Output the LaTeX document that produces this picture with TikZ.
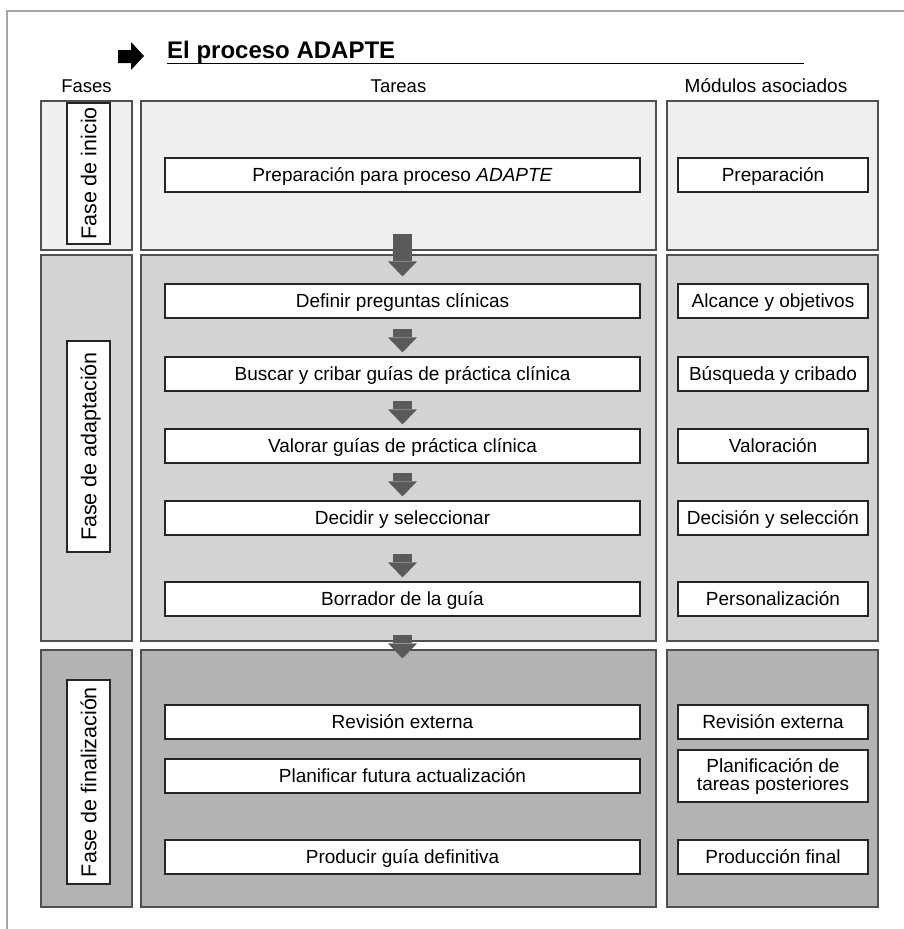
\documentclass[tikz,border=0pt]{standalone}
\usepackage{fontspec}
\setmainfont{Liberation Sans}
\usepackage{xcolor}
\usetikzlibrary{arrows.meta}
\definecolor{rowA}{HTML}{EFEFEF}
\definecolor{rowB}{HTML}{D3D3D3}
\definecolor{rowC}{HTML}{B3B3B3}
\definecolor{edgegray}{HTML}{505050}
\definecolor{flowgray}{HTML}{5A5A5A}
\definecolor{framegray}{HTML}{A6A6A6}

\begin{document}
\begin{tikzpicture}[x=1pt, y=-1pt,
    colbox/.style={draw=edgegray, line width=1.3pt},
    task/.style={draw=black!85, fill=white, line width=1.1pt, minimum width=475pt, minimum height=34pt, inner sep=0pt, text height=13.6pt, text depth=0pt, align=center, font=\fontsize{19}{18}\selectfont},
    modul/.style={task, minimum width=190pt},
    phase/.style={draw=black!85, fill=white, line width=1.1pt, rotate=90, minimum height=43pt, inner sep=0pt, text height=15.5pt, text depth=0pt, font=\fontsize{21.5}{24}\selectfont},
    head/.style={anchor=base, font=\fontsize{18.5}{21}\selectfont},
    flow/.style={draw=flowgray, line width=19pt, -{Triangle[length=15pt, width=29pt, line width=0pt]}, shorten >=4pt}]
  \useasboundingbox (0,0) rectangle (904,929);
  \draw[framegray, line width=2.5pt] (7,929) -- (7,11) -- (904,11);

  \fill (118,50) -- (131,50) -- (131,42) -- (144,56) -- (131,70) -- (131,63) -- (118,63) -- cycle;
  \node[anchor=base west, inner sep=0pt, font=\bfseries\fontsize{24}{28}\selectfont] (title) at (167,58) {El proceso ADAPTE};
  \draw[line width=1.4pt] ([yshift=-5.5pt]title.base west) -- ++(637,0);

  \node[head] (hfase) at (86.5,92) {Fases};
  \node[head] (htarea) at (398.5,92) {Tareas};
  \node[head, font=\fontsize{19}{21}\selectfont] (hmod) at (766,92) {Módulos asociados};

  \draw[colbox, fill=rowA] (41,101) rectangle (132,250);
  \draw[colbox, fill=rowA] (141,101) rectangle (656,250);
  \draw[colbox, fill=rowA] (667,101) rectangle (878,250);
  \draw[colbox, fill=rowB] (41,255) rectangle (132,641);
  \draw[colbox, fill=rowB] (141,255) rectangle (656,641);
  \draw[colbox, fill=rowB] (667,255) rectangle (878,641);
  \draw[colbox, fill=rowC] (41,650) rectangle (132,907);
  \draw[colbox, fill=rowC] (141,650) rectangle (656,907);
  \draw[colbox, fill=rowC] (667,650) rectangle (878,907);

  \node[phase, minimum width=141pt] (inicio) at (88.5,173.5) {Fase de inicio};
  \node[phase, minimum width=211pt] (adapt) at (88.5,446.5) {Fase de adaptación};
  \node[phase, minimum width=204pt] (final) at (88.5,782) {Fase de finalización};

  \node[task] (t0) at (402.5,175) {Preparación para proceso \textit{ADAPTE}};
  \node[task] (t1) at (402.5,301) {Definir preguntas clínicas};
  \node[task] (t2) at (402.5,374) {Buscar y cribar guías de práctica clínica};
  \node[task] (t3) at (402.5,446) {Valorar guías de práctica clínica};
  \node[task] (t4) at (402.5,518) {Decidir y seleccionar};
  \node[task] (t5) at (402.5,599) {Borrador de la guía};
  \node[task] (t6) at (402.5,722) {Revisión externa};
  \node[task] (t7) at (402.5,776) {Planificar futura actualización};
  \node[task] (t8) at (402.5,857) {Producir guía definitiva};

  \node[modul] (m0) at (773,175) {Preparación};
  \node[modul] (m1) at (773,301) {Alcance y objetivos};
  \node[modul] (m2) at (773,374) {Búsqueda y cribado};
  \node[modul] (m3) at (773,446) {Valoración};
  \node[modul] (m4) at (773,518) {Decisión y selección};
  \node[modul] (m5) at (773,599) {Personalización};
  \node[modul] (m6) at (773,722) {Revisión externa};
  \node[modul, minimum height=52pt, text height={}, text depth={}] (m7) at (773,776) {Planificación de\\tareas posteriores};
  \node[modul] (m8) at (773,857) {Producción final};

  \draw[flow, shorten <=41pt, shorten >=7pt] (t0) -- (t1);
  \draw[flow, shorten <=10pt] (t1) -- (t2);
  \draw[flow, shorten <=9pt] (t2) -- (t3);
  \draw[flow, shorten <=9pt] (t3) -- (t4);
  \draw[flow, shorten <=18pt] (t4) -- (t5);
  \draw[flow, shorten <=18pt, shorten >=46pt] (t5) -- (t6);
\end{tikzpicture}
\end{document}
